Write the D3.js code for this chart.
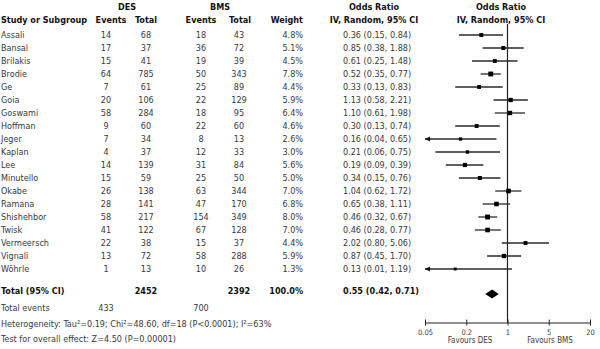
<!DOCTYPE html>
<html lang="en">
<head>
<meta charset="utf-8" />
<title>Forest plot - DES vs BMS</title>
<script src="https://d3js.org/d3.v7.min.js"></script>
<style>
  body { margin: 0; background: #fff; }
  svg text { font-family: "Liberation Sans Narrow", "DejaVu Sans Condensed", "Roboto", sans-serif; font-size: 9px; fill: #3a3a3a; }
  svg text.hd { font-weight: bold; fill: #111; }
</style>
</head>
<body>
<script>
// study data
const studies   = ["Assali", "Bansal", "Brilakis", "Brodie", "Ge", "Goia", "Goswami", "Hoffman", "Jeger", "Kaplan",
                   "Lee", "Minutello", "Okabe", "Ramana", "Shishehbor", "Twisk", "Vermeersch", "Vignali", "Wöhrle"];
const desEvents = [14, 17, 15, 64, 7, 20, 58, 9, 7, 4, 14, 15, 26, 28, 58, 41, 22, 13, 1];
const desTotal  = [68, 37, 41, 785, 61, 106, 284, 60, 34, 37, 139, 59, 138, 141, 217, 122, 38, 72, 13];
const bmsEvents = [18, 36, 19, 50, 25, 22, 18, 22, 8, 12, 31, 25, 63, 47, 154, 67, 15, 58, 10];
const bmsTotal  = [43, 72, 39, 343, 89, 129, 95, 60, 13, 33, 84, 50, 344, 170, 349, 128, 37, 288, 26];
const weights   = [4.8, 5.1, 4.5, 7.8, 4.4, 5.9, 6.4, 4.6, 2.6, 3.0, 5.6, 5.0, 7.0, 6.8, 8.0, 7.0, 4.4, 5.9, 1.3];
const oddsRatio = [0.36, 0.85, 0.61, 0.52, 0.33, 1.13, 1.10, 0.30, 0.16, 0.21, 0.19, 0.34, 1.04, 0.65, 0.46, 0.46, 2.02, 0.87, 0.13];
const ciLow     = [0.15, 0.38, 0.25, 0.35, 0.13, 0.58, 0.61, 0.13, 0.04, 0.06, 0.09, 0.15, 0.62, 0.38, 0.32, 0.28, 0.80, 0.45, 0.01];
const ciHigh    = [0.84, 1.88, 1.48, 0.77, 0.83, 2.21, 1.98, 0.74, 0.65, 0.75, 0.39, 0.76, 1.72, 1.11, 0.67, 0.77, 5.06, 1.70, 1.19];

// pooled result
const pooled = { desTotal: 2452, bmsTotal: 2392, weight: 100.0, or: 0.55, lo: 0.42, hi: 0.71, desEvents: 433, bmsEvents: 700 };
const heterogeneity = "Heterogeneity: Tau²=0.19; Chi²=48.60, df=18 (P<0.0001); I²=63%";
const overallEffect = "Test for overall effect: Z=4.50 (P=0.00001)";

// axis
const axisDomain = [0.04, 25];
const tickValues = [0.04, 0.2, 1, 5, 25];
const tickLabels = ["0.05", "0.2", "1", "5", "20"];

const width = 600, height = 349;
const svg = d3.select("body").append("svg")
    .attr("width", width)
    .attr("height", height);

const x = d3.scaleLog().domain(axisDomain).range([425, 590]);
const y = d3.scaleBand().domain(d3.range(studies.length)).range([28.5, 275.5]);
const yc = i => y(i) + y.bandwidth() / 2;

const fmt2 = d3.format(".2f");
const fmtW = d => d3.format(".1f")(d) + "%";
const orText = (o, l, h) => fmt2(o) + " (" + fmt2(l) + ", " + fmt2(h) + ")";

// column positions
const col = { study: 1, desE: 106, desT: 146, bmsE: 201, bmsT: 239, weight: 303, or: 343 };

// headers
const header = svg.append("g");
function hd(txt, xx, yy, anchor) {
    header.append("text").attr("class", "hd").attr("x", xx).attr("y", yy)
        .attr("text-anchor", anchor).text(txt);
}
hd("DES", 127, 10, "middle");
hd("BMS", 220, 10, "middle");
hd("Odds Ratio", 374, 10, "middle");
hd("Odds Ratio", 501, 10, "middle");
hd("Study or Subgroup", col.study, 23, "start");
hd("Events", 111, 23, "middle");
hd("Total", col.desT, 23, "middle");
hd("Events", col.bmsE, 23, "middle");
hd("Total", 240, 23, "middle");
hd("Weight", col.weight, 23, "end");
hd("IV, Random, 95% CI", 374, 23, "middle");
hd("IV, Random, 95% CI", 501, 23, "middle");

// study rows
const rows = svg.append("g").selectAll("g")
    .data(studies)
    .join("g")
    .attr("transform", (d, i) => "translate(0," + (yc(i) + 3.2) + ")");

rows.append("text").attr("x", col.study).text(d => d);
rows.append("text").attr("x", col.desE).attr("text-anchor", "middle").text((d, i) => desEvents[i]);
rows.append("text").attr("x", col.desT).attr("text-anchor", "middle").text((d, i) => desTotal[i]);
rows.append("text").attr("x", col.bmsE).attr("text-anchor", "middle").text((d, i) => bmsEvents[i]);
rows.append("text").attr("x", col.bmsT).attr("text-anchor", "middle").text((d, i) => bmsTotal[i]);
rows.append("text").attr("x", col.weight).attr("text-anchor", "end").text((d, i) => fmtW(weights[i]));
rows.append("text").attr("x", col.or).text((d, i) => orText(oddsRatio[i], ciLow[i], ciHigh[i]));

// total rows
const yTot = 294, yEv = 311, yHet = 327, yTest = 342;
svg.append("text").attr("class", "hd").attr("x", col.study).attr("y", yTot).text("Total (95% CI)");
svg.append("text").attr("class", "hd").attr("x", col.desT).attr("y", yTot).attr("text-anchor", "middle").text(pooled.desTotal);
svg.append("text").attr("class", "hd").attr("x", col.bmsT).attr("y", yTot).attr("text-anchor", "middle").text(pooled.bmsTotal);
svg.append("text").attr("class", "hd").attr("x", col.weight).attr("y", yTot).attr("text-anchor", "end").text(fmtW(pooled.weight));
svg.append("text").attr("class", "hd").attr("x", col.or).attr("y", yTot).text(orText(pooled.or, pooled.lo, pooled.hi));
svg.append("text").attr("x", col.study).attr("y", yEv).text("Total events");
svg.append("text").attr("x", col.desE).attr("y", yEv).attr("text-anchor", "middle").text(pooled.desEvents);
svg.append("text").attr("x", col.bmsE).attr("y", yEv).attr("text-anchor", "middle").text(pooled.bmsEvents);
svg.append("text").attr("x", col.study).attr("y", yHet).text(heterogeneity);
svg.append("text").attr("x", col.study).attr("y", yTest).text(overallEffect);

// plot area
const axisY = 322.5;
svg.append("line")
    .attr("x1", x(1)).attr("x2", x(1))
    .attr("y1", 24).attr("y2", axisY)
    .attr("stroke", "#222").attr("stroke-width", 1.2);

const marks = svg.append("g");
studies.forEach((s, i) => {
    const lo = Math.max(ciLow[i], axisDomain[0]);
    const hi = Math.min(ciHigh[i], axisDomain[1]);
    const cy = yc(i);
    marks.append("line")
        .attr("x1", x(lo)).attr("x2", x(hi))
        .attr("y1", cy).attr("y2", cy)
        .attr("stroke", "#2a2a2a").attr("stroke-width", 1.3);
    if (ciLow[i] <= axisDomain[0]) {
        const ax = x(axisDomain[0]);
        marks.append("path")
            .attr("d", `M${ax},${cy} l5,-2.5 l0,5 Z`)
            .attr("fill", "#111");
    }
    const sz = 2.5 + weights[i] * 0.3;
    marks.append("rect")
        .attr("x", x(oddsRatio[i]) - sz / 2).attr("y", cy - sz / 2)
        .attr("width", sz).attr("height", sz)
        .attr("fill", "#000");
});

// pooled diamond
const dy = yTot;
svg.append("path")
    .attr("d", `M${x(pooled.lo)},${dy} L${x(pooled.or)},${dy - 4.5} L${x(pooled.hi)},${dy} L${x(pooled.or)},${dy + 4.5} Z`)
    .attr("fill", "#000");

// axis
const axis = d3.axisBottom(x)
    .tickValues(tickValues)
    .tickFormat((d, i) => tickLabels[i])
    .tickSizeOuter(0)
    .tickSizeInner(3)
    .tickPadding(4);
const ag = svg.append("g")
    .attr("transform", "translate(0," + axisY + ")")
    .call(axis);
ag.select(".domain").attr("stroke", "#222");
ag.selectAll(".tick line").attr("y1", -3).attr("y2", 3).attr("stroke", "#222");
ag.selectAll(".tick text").attr("font-size", null).attr("font-family", null).attr("fill", "#333")
    .style("font-size", "7.5px");

svg.append("text").attr("x", 470).attr("y", 343).attr("text-anchor", "middle")
    .style("font-size", "8px").text("Favours DES");
svg.append("text").attr("x", 550).attr("y", 343).attr("text-anchor", "middle")
    .style("font-size", "8px").text("Favours BMS");
</script>
</body>
</html>
